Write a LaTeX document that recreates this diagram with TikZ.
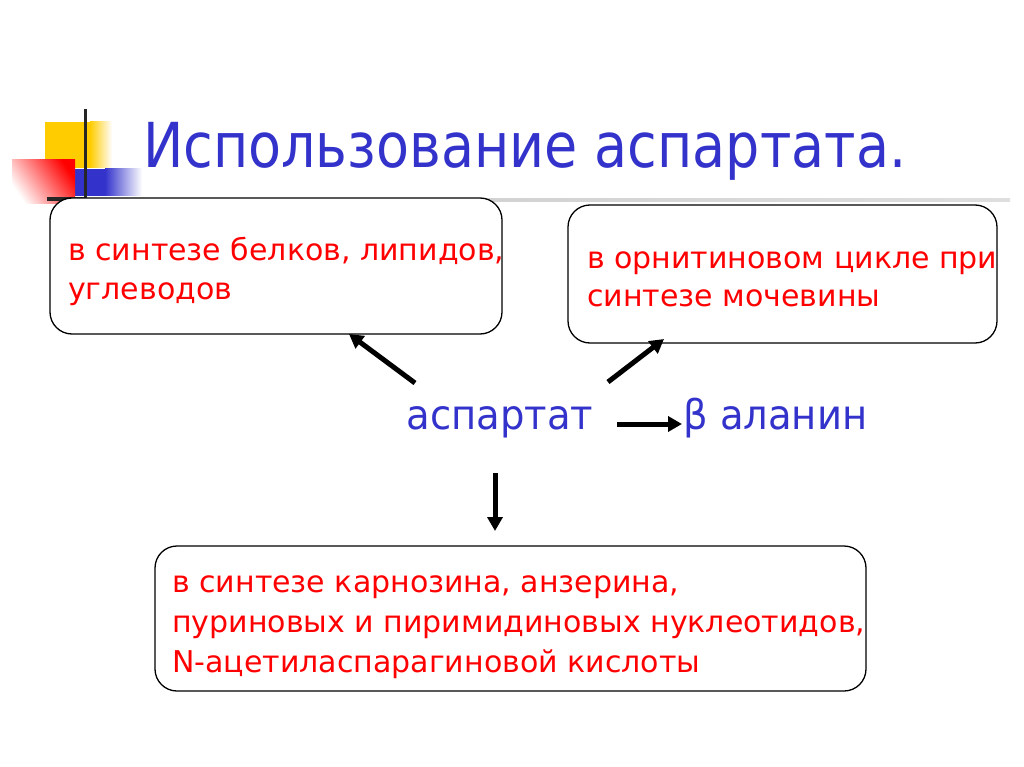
\documentclass[tikz,border=0pt]{standalone}
\usepackage{fontspec}
\setmainfont{DejaVu Sans}
\newfontfamily\titlefont{DejaVu Sans}[FakeStretch=0.87]
\newfontfamily\midfont{DejaVu Sans}[FakeStretch=0.94]
\usetikzlibrary{arrows.meta}
\definecolor{tblue}{RGB}{51,51,204}
\definecolor{tred}{RGB}{255,0,0}
\definecolor{tyellow}{RGB}{255,204,0}
\definecolor{lgray}{RGB}{200,200,200}
\tikzset{
  box/.style={draw=black, line width=1.3pt, rounded corners=22pt, inner sep=0pt, fill=white},
  boxtext/.style={text=tred, font=\fontsize{30}{36}\selectfont, anchor=base west, inner sep=0pt},
  conn/.style={line width=5pt, -{Triangle[length=14pt,width=15pt]}},
  big/.style={text=tblue, font=\midfont\fontsize{41}{48}\selectfont, inner sep=0pt}
}
\begin{document}
\begin{tikzpicture}[x=1pt,y=-1pt]
\useasboundingbox (0,0) rectangle (1024,767);
% decoration
\fill[tyellow] (45,122) rectangle (90,168);
\shade[left color=tyellow, right color=white] (90,122) rectangle (112,168);
\fill[tblue] (75,169) rectangle (105,196);
\shade[left color=tblue, right color=white] (105,169) rectangle (142,196);
\shade[left color=white, right color=red, shading angle=125] (12,160) rectangle (75,204);
\draw[line width=3pt, black!85] (85,109) -- (85,198);
\shade[left color=lgray, right color=lgray!60] (83,198.5) rectangle (1010,202);
\fill[black!85] (47,197.5) rectangle (84,201);
% title
\node[anchor=base west, text=tblue, font=\titlefont\fontsize{62}{70}\selectfont, inner sep=0pt] (title) at (143,168) {Использование аспартата.};
% boxes
\node[box, minimum width=452pt, minimum height=136pt] (b1) at (276,266) {};
\node[boxtext] (t1a) at (68,260) {в синтезе белков, липидов,};
\node[boxtext] (t1b) at (68,299) {углеводов};
\node[box, minimum width=429pt, minimum height=138pt] (b2) at (782.5,274) {};
\node[boxtext] (t2a) at (587,268) {в орнитиновом цикле при};
\node[boxtext] (t2b) at (587,306) {синтезе мочевины};
\node[box, minimum width=711pt, minimum height=145pt] (b3) at (510.5,618.5) {};
\node[boxtext] (t3a) at (172,592) {в синтезе карнозина, анзерина,};
\node[boxtext] (t3b) at (172,632) {пуриновых и пиримидиновых нуклеотидов,};
\node[boxtext] (t3c) at (172,672) {N-ацетиласпарагиновой кислоты};
% center texts
\node[big, anchor=base] (asp) at (500,429) {аспартат};
\node[big, anchor=base west] (ala) at (683,429) {β аланин};
% connectors
\coordinate (s1) at (415,383); \coordinate (e1) at (349,334);
\coordinate (s2) at (608,382); \coordinate (e2) at (664,339);
\coordinate (s3) at (617,424); \coordinate (e3) at (682,424);
\coordinate (s4) at (495,473); \coordinate (e4) at (495,531);
\draw[conn] (s1) -- (e1);
\draw[conn] (s2) -- (e2);
\draw[conn] (s3) -- (e3);
\draw[conn] (s4) -- (e4);
\end{tikzpicture}
\end{document}
